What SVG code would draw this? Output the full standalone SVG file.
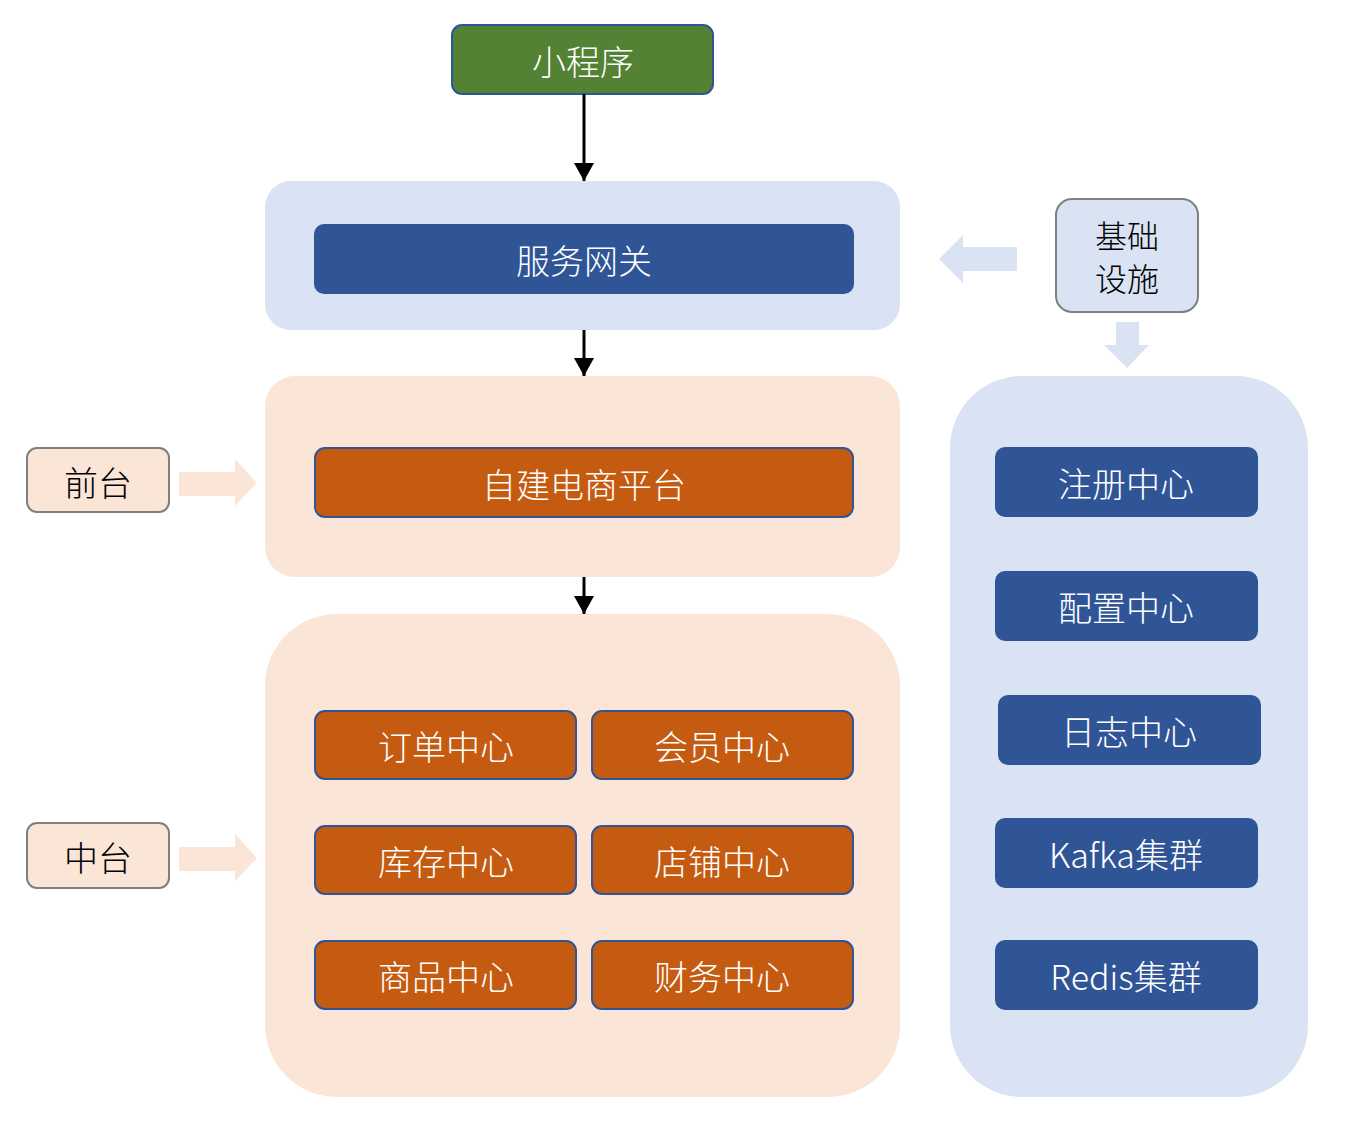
<svg xmlns="http://www.w3.org/2000/svg" width="1354" height="1134" viewBox="0 0 1354 1134">
<defs>
<style>
.t{font-family:"Noto Sans CJK SC","Noto Sans",sans-serif;font-size:34px;font-weight:300;text-anchor:middle;dominant-baseline:central}
.w{fill:#ffffff}
.k{fill:#000000}
.blue{fill:#2F5597}
.org{fill:#C55A11;stroke:#2F5597;stroke-width:2}
.lb{fill:#DAE3F3}
.pk{fill:#FBE5D6}
.side{stroke:#7F7F7F;stroke-width:2}
</style>
<marker id="ah" markerWidth="18" markerHeight="20" refX="18" refY="10" orient="auto" markerUnits="userSpaceOnUse" viewBox="0 0 18 20">
<path d="M0,0 L18,10 L0,20 Z" fill="#000"/>
</marker>
</defs>
<rect width="1354" height="1134" fill="#ffffff"/>

<g id="gateway-container"><rect class="lb" x="265" y="181" width="635" height="149" rx="26"/></g>
<g id="front-container"><rect class="pk" x="265" y="376" width="635" height="201" rx="30"/></g>
<g id="middle-container"><rect class="pk" x="265" y="614" width="635" height="483" rx="72"/></g>
<g id="infra-container"><rect class="lb" x="950" y="376" width="358" height="721" rx="72"/></g>

<g id="miniapp"><rect x="452" y="25" width="261" height="69" rx="10" fill="#548235" stroke="#2F5597" stroke-width="2"/><text class="t w" x="583" y="60">小程序</text></g>
<g id="gateway"><rect class="blue" x="314" y="224" width="540" height="70" rx="10"/><text class="t w" x="584" y="259">服务网关</text></g>
<g id="platform"><rect class="org" x="315" y="448" width="538" height="69" rx="10"/><text class="t w" x="584" y="483">自建电商平台</text></g>

<g id="order"><rect class="org" x="315" y="711" width="261" height="68" rx="10"/><text class="t w" x="446" y="745">订单中心</text></g>
<g id="member"><rect class="org" x="592" y="711" width="261" height="68" rx="10"/><text class="t w" x="722" y="745">会员中心</text></g>
<g id="stock"><rect class="org" x="315" y="826" width="261" height="68" rx="10"/><text class="t w" x="446" y="860">库存中心</text></g>
<g id="shop"><rect class="org" x="592" y="826" width="261" height="68" rx="10"/><text class="t w" x="722" y="860">店铺中心</text></g>
<g id="goods"><rect class="org" x="315" y="941" width="261" height="68" rx="10"/><text class="t w" x="446" y="975">商品中心</text></g>
<g id="finance"><rect class="org" x="592" y="941" width="261" height="68" rx="10"/><text class="t w" x="722" y="975">财务中心</text></g>

<g id="registry"><rect class="blue" x="995" y="447" width="263" height="70" rx="10"/><text class="t w" x="1126" y="482">注册中心</text></g>
<g id="config"><rect class="blue" x="995" y="571" width="263" height="70" rx="10"/><text class="t w" x="1126" y="606">配置中心</text></g>
<g id="log"><rect class="blue" x="998" y="695" width="263" height="70" rx="10"/><text class="t w" x="1129" y="730">日志中心</text></g>
<g id="kafka"><rect class="blue" x="995" y="818" width="263" height="70" rx="10"/><text class="t w" x="1126" y="853">Kafka集群</text></g>
<g id="redis"><rect class="blue" x="995" y="940" width="263" height="70" rx="10"/><text class="t w" x="1126" y="975">Redis集群</text></g>

<g id="infra"><rect class="lb side" x="1056" y="199" width="142" height="113" rx="16"/><text class="t k" x="1127" y="234" style="font-size:32px">基础</text><text class="t k" x="1127" y="277" style="font-size:32px">设施</text></g>
<g id="front"><rect class="pk side" x="27" y="448" width="142" height="64" rx="10"/><text class="t k" x="98" y="481">前台</text></g>
<g id="middle"><rect class="pk side" x="27" y="823" width="142" height="65" rx="10"/><text class="t k" x="98" y="856">中台</text></g>

<g id="connectors">
<line x1="584" y1="94" x2="584" y2="181" stroke="#000" stroke-width="3" marker-end="url(#ah)"/>
<line x1="584" y1="330" x2="584" y2="376" stroke="#000" stroke-width="3" marker-end="url(#ah)"/>
<line x1="584" y1="577" x2="584" y2="614" stroke="#000" stroke-width="3" marker-end="url(#ah)"/>
<path d="M1017,247 L963,247 L963,235 L939,259 L963,283 L963,271 L1017,271 Z" fill="#DAE3F3"/>
<path d="M1116,322 L1139,322 L1139,345 L1149,345 L1127,368 L1104,345 L1116,345 Z" fill="#DAE3F3"/>
<path d="M179,472 L235,472 L235,459 L257,483 L235,506 L235,496 L179,496 Z" fill="#FBE5D6"/>
<path d="M179,847 L235,847 L235,834 L257,858 L235,881 L235,871 L179,871 Z" fill="#FBE5D6"/>
</g>
</svg>
